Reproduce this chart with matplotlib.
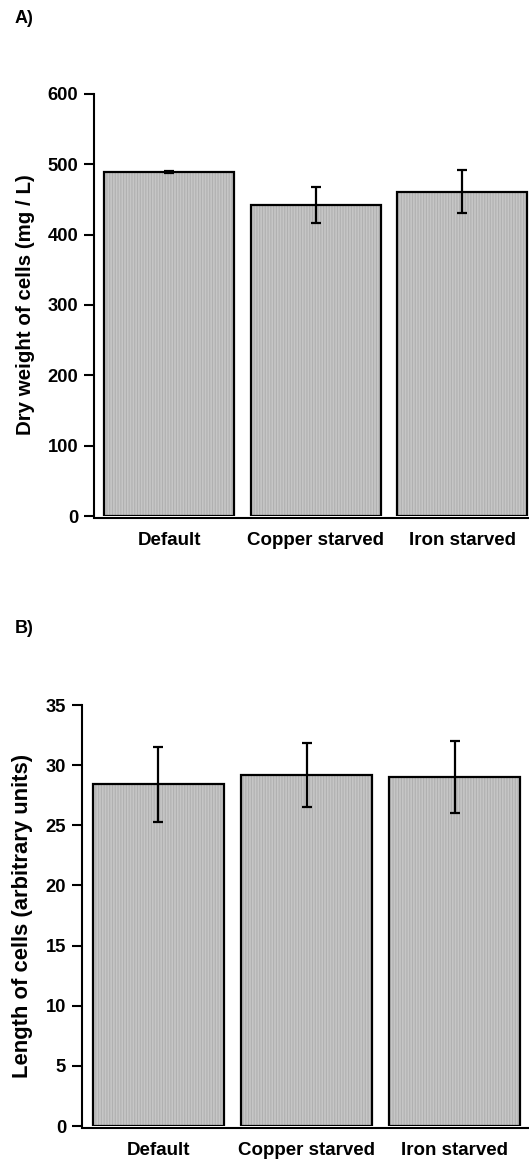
import matplotlib.pyplot as plt
import numpy as np

plt.rcParams["font.family"] = ["Liberation Sans", "DejaVu Sans"]
plt.rcParams["font.weight"] = "bold"
plt.rcParams["hatch.linewidth"] = 0.8

conditions = ["Default", "Copper starved", "Iron starved"]

dry_weight = [489, 442, 461]
dry_weight_err = [2, 25.5, 30.5]

cell_length = [28.4, 29.2, 29.0]
cell_length_err = [3.1, 2.65, 3.0]

FACE = "#c6c6c6"
STRIPE = "#b0b0b0"


def bar_panel(ax, values, errors, ylim, yticks, ylabel, label_size, xlim, width):
    x = np.arange(len(values))
    # fill with fine vertical stripes, then the black outline on top
    ax.bar(x, values, width=width, color=FACE, edgecolor=STRIPE,
           hatch="||||||", linewidth=0, zorder=2)
    ax.bar(x, values, width=width, color="none", edgecolor="black",
           linewidth=1.6, zorder=3)
    ax.errorbar(x, values, yerr=errors, fmt="none", ecolor="black",
                elinewidth=1.6, capsize=3.6, capthick=1.6, zorder=4)

    ax.set_xlim(*xlim)
    ax.set_ylim(*ylim)
    ax.set_yticks(yticks)
    ax.set_xticks(x, conditions)
    ax.tick_params(axis="x", length=0, pad=10, labelsize=13.5)
    ax.tick_params(axis="y", length=7.5, width=1.5, pad=4, labelsize=13.2)
    ax.set_ylabel(ylabel, fontsize=label_size, fontweight="bold", labelpad=9)

    for side in ("top", "right"):
        ax.spines[side].set_visible(False)
    ax.spines["left"].set_linewidth(1.5)
    ax.spines["bottom"].set_linewidth(1.5)
    ax.spines["bottom"].set_position(("outward", 1.5))


fig = plt.figure(figsize=(5.29, 11.63), dpi=100)

ax_a = fig.add_axes([0.1777, 0.5563, 0.8223, 0.3629])
bar_panel(ax_a, dry_weight, dry_weight_err, (0, 600), range(0, 601, 100),
          "Dry weight of cells (mg / L)", 14.8, (-0.512, 2.457), 0.887)

ax_b = fig.add_axes([0.155, 0.0318, 0.845, 0.362])
bar_panel(ax_b, cell_length, cell_length_err, (0, 35), range(0, 36, 5),
          "Length of cells (arbitrary units)", 15.8, (-0.516, 2.5), 0.884)

fig.text(15 / 529, 1 - 23 / 1163, "A)", fontsize=13, fontweight="bold")
fig.text(15 / 529, 1 - 633 / 1163, "B)", fontsize=13, fontweight="bold")

fig.savefig("out.png", dpi=100)
